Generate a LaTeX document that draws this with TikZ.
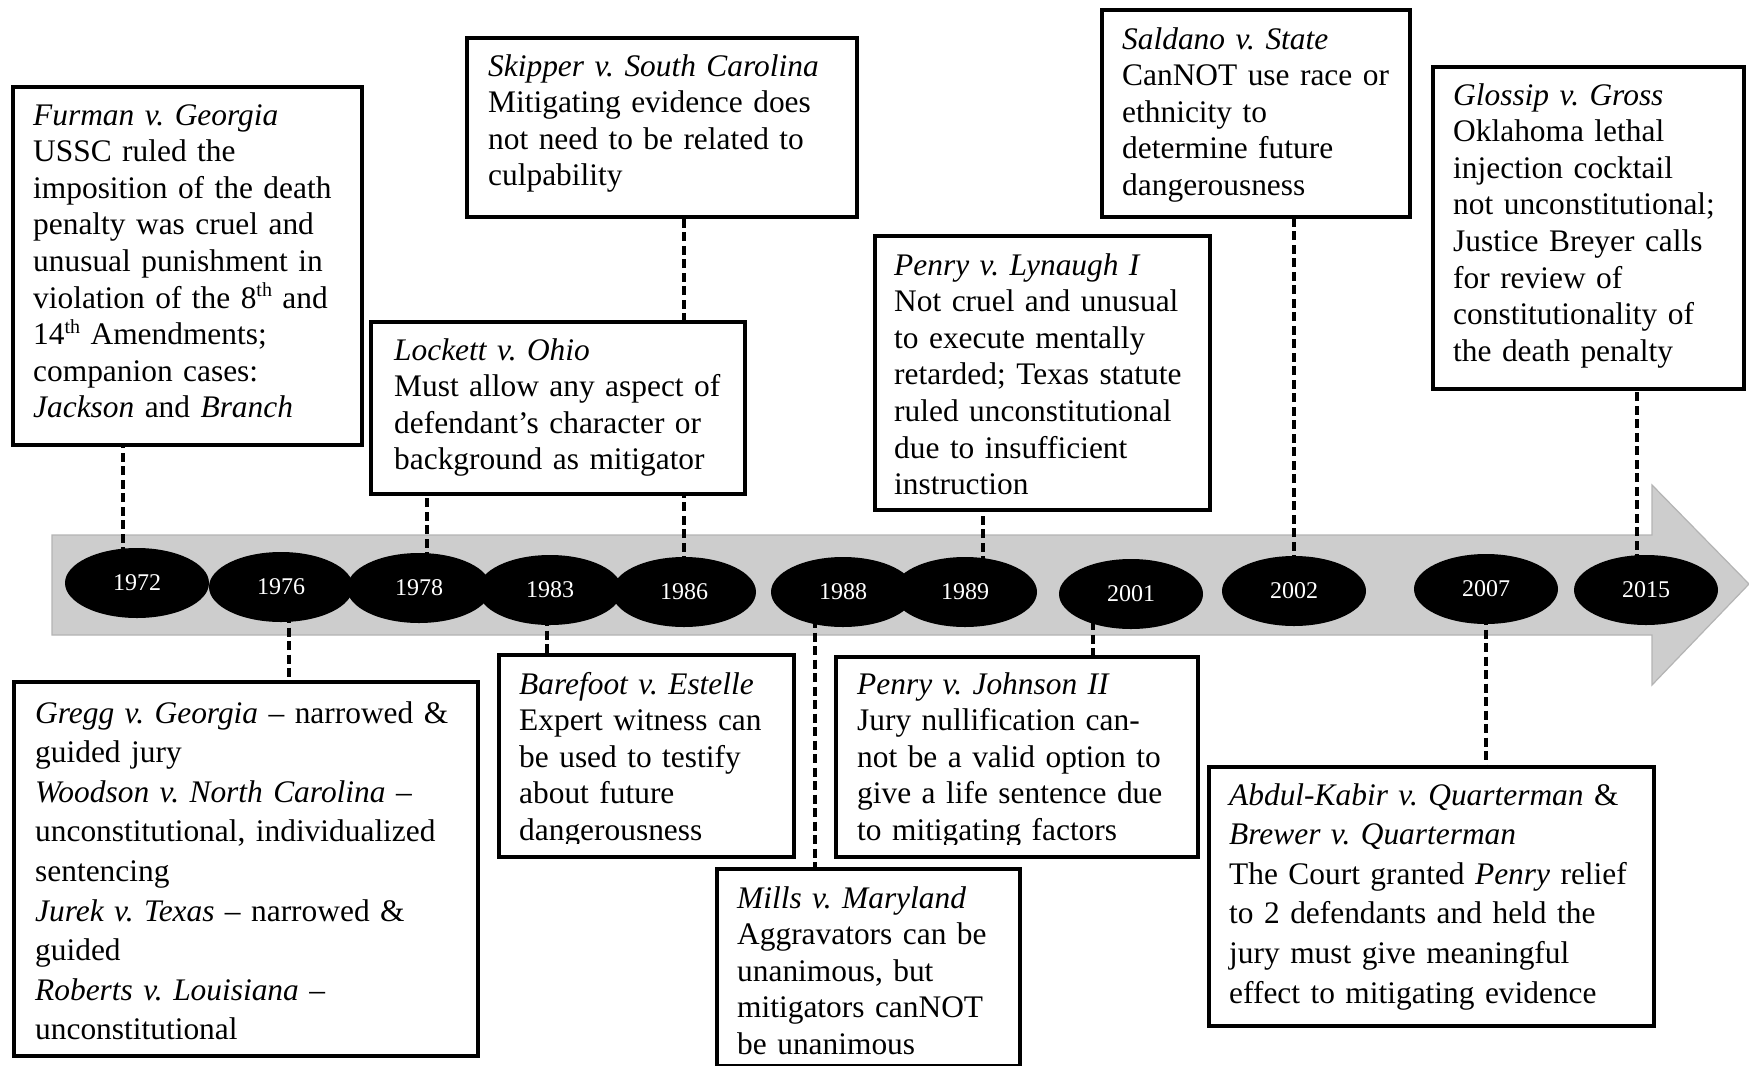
\documentclass[tikz,border=0pt]{standalone}
\usepackage{fontspec}
\setmainfont{Liberation Serif}
\usetikzlibrary{shapes.geometric}
\pgfdeclarelayer{back}
\pgfdeclarelayer{links}
\pgfsetlayers{back,links,main}
\definecolor{barfill}{HTML}{CDCDCD}
\definecolor{barline}{HTML}{B4B4B4}
\newcommand\sups[1]{\raisebox{0.36em}{\fontsize{20}{20}\selectfont #1}}
\frenchspacing
\begin{document}
\begin{tikzpicture}[x=1pt,y=-1pt,
  casebox/.style={draw=black, line width=4pt, fill=white, rectangle, inner sep=0pt, anchor=north west},
  casetext/.style={anchor=base west, inner sep=0pt, text width=520pt, align=left,
                   font=\fontsize{31.4}{36.6}\selectfont},
  widetext/.style={casetext, font=\fontsize{31.4}{39.6}\selectfont},
  yearnode/.style={ellipse, fill=black, draw=none, text=white, inner sep=0pt,
                   minimum width=144pt, minimum height=70pt, font=\fontsize{24}{24}\selectfont},
  conn/.style={line width=4pt, dash pattern=on 9pt off 4.5pt}]
\useasboundingbox (0,0) rectangle (1749,1066);

% timeline arrow
\begin{pgfonlayer}{back}
  \fill[white] (0,0) rectangle (1749,1066);
  \draw[barline, fill=barfill, line width=1.2pt, line join=miter]
    (52,535) -- (1652,535) -- (1652,485) -- (1749,584) -- (1652,685) -- (1652,635) -- (52,635) -- cycle;
\end{pgfonlayer}

% case boxes above the line
\node[casebox, minimum width=349pt, minimum height=358pt] (furman) at (11,85) {};
\node[casetext] (furmanT) at (33,125) {\textit{Furman v. Georgia}\\
USSC ruled the\\
imposition of the death\\
penalty was cruel and\\
unusual punishment in\\
violation of the 8\sups{th} and\\
14\sups{th} Amendments;\\
companion cases:\\
\textit{Jackson} and \textit{Branch}};

\node[casebox, minimum width=390pt, minimum height=179pt] (skipper) at (465,36) {};
\node[casetext] (skipperT) at (488,76) {\textit{Skipper v. South Carolina}\\
Mitigating evidence does\\
not need to be related to\\
culpability};

\node[casebox, minimum width=374pt, minimum height=172pt] (lockett) at (369,320) {};
\node[casetext] (lockettT) at (394,360) {\textit{Lockett v. Ohio}\\
Must allow any aspect of\\
defendant’s character or\\
background as mitigator};

\node[casebox, minimum width=335pt, minimum height=274pt] (lynaugh) at (873,234) {};
\node[casetext] (lynaughT) at (894,275) {\textit{Penry v. Lynaugh I}\\
Not cruel and unusual\\
to execute mentally\\
retarded; Texas statute\\
ruled unconstitutional\\
due to insufficient\\
instruction};

\node[casebox, minimum width=308pt, minimum height=207pt] (saldano) at (1100,8) {};
\node[casetext] (saldanoT) at (1122,49) {\textit{Saldano v. State}\\
CanNOT use race or\\
ethnicity to\\
determine future\\
dangerousness};

\node[casebox, minimum width=311pt, minimum height=322pt] (glossip) at (1431,65) {};
\node[casetext] (glossipT) at (1453,105) {\textit{Glossip v. Gross}\\
Oklahoma lethal\\
injection cocktail\\
not unconstitutional;\\
Justice Breyer calls\\
for review of\\
constitutionality of\\
the death penalty};

% case boxes below the line
\node[casebox, minimum width=464pt, minimum height=374pt] (gregg) at (12,680) {};
\node[widetext] (greggT) at (35,723) {\textit{Gregg v. Georgia} – narrowed \&\\
guided jury\\
\textit{Woodson v. North Carolina} –\\
unconstitutional, individualized\\
sentencing\\
\textit{Jurek v. Texas} – narrowed \&\\
guided\\
\textit{Roberts v. Louisiana} –\\
unconstitutional};

\node[casebox, minimum width=295pt, minimum height=202pt] (barefoot) at (497,653) {};
\begin{scope}
  \clip (497,653) rectangle (792,843);
  \node[casetext] (barefootT) at (519,694) {\textit{Barefoot v. Estelle}\\
  Expert witness can\\
  be used to testify\\
  about future\\
  dangerousness};
\end{scope}

\node[casebox, minimum width=362pt, minimum height=200pt] (johnson) at (834,655) {};
\begin{scope}
  \clip (834,655) rectangle (1196,844);
  \node[casetext] (johnsonT) at (857,694) {\textit{Penry v. Johnson II}\\
  Jury nullification can-\\
  not be a valid option to\\
  give a life sentence due\\
  to mitigating factors};
\end{scope}

\node[casebox, minimum width=303pt, minimum height=197pt] (mills) at (715,867) {};
\node[casetext] (millsT) at (737,908) {\textit{Mills v. Maryland}\\
Aggravators can be\\
unanimous, but\\
mitigators canNOT\\
be unanimous};

\node[casebox, minimum width=445pt, minimum height=259pt] (abdul) at (1207,765) {};
\node[widetext] (abdulT) at (1229,805) {\textit{Abdul-Kabir v. Quarterman} \&\\
\textit{Brewer v. Quarterman}\\
The Court granted \textit{Penry} relief\\
to 2 defendants and held the\\
jury must give meaningful\\
effect to mitigating evidence};

% years on the timeline
\node[yearnode] (y1972) at (137,583) {1972};
\node[yearnode] (y1976) at (281,587) {1976};
\node[yearnode] (y1978) at (419,588) {1978};
\node[yearnode] (y1983) at (550,590) {1983};
\node[yearnode] (y1986) at (684,592) {1986};
\node[yearnode] (y1988) at (843,592) {1988};
\node[yearnode] (y1989) at (965,592) {1989};
\node[yearnode] (y2001) at (1131,594) {2001};
\node[yearnode] (y2002) at (1294,591) {2002};
\node[yearnode] (y2007) at (1486,589) {2007};
\node[yearnode] (y2015) at (1646,590) {2015};

% dashed leaders from each year to its case box
\begin{pgfonlayer}{links}
  \draw[conn] ([xshift=-14pt]y1972.center) -- ([xshift=-14pt]y1972.center |- furman.center);
  \draw[conn] ([xshift=8pt]y1976.center) -- ([xshift=8pt]y1976.center |- gregg.center);
  \draw[conn] ([xshift=8pt]y1978.center) -- ([xshift=8pt]y1978.center |- lockett.center);
  \draw[conn] ([xshift=-3pt]y1983.center) -- ([xshift=-3pt]y1983.center |- barefoot.center);
  \draw[conn] (y1986.center) -- (y1986.center |- skipper.center);
  \draw[conn] ([xshift=-28pt]y1988.center) -- ([xshift=-28pt]y1988.center |- mills.center);
  \draw[conn] ([xshift=18pt]y1989.center) -- ([xshift=18pt]y1989.center |- lynaugh.center);
  \draw[conn] ([xshift=-38pt]y2001.center) -- ([xshift=-38pt]y2001.center |- johnson.center);
  \draw[conn] (y2002.center) -- (y2002.center |- saldano.center);
  \draw[conn] (y2007.center) -- (y2007.center |- abdul.center);
  \draw[conn] ([xshift=-9pt]y2015.center) -- ([xshift=-9pt]y2015.center |- glossip.center);
\end{pgfonlayer}
\end{tikzpicture}
\end{document}
